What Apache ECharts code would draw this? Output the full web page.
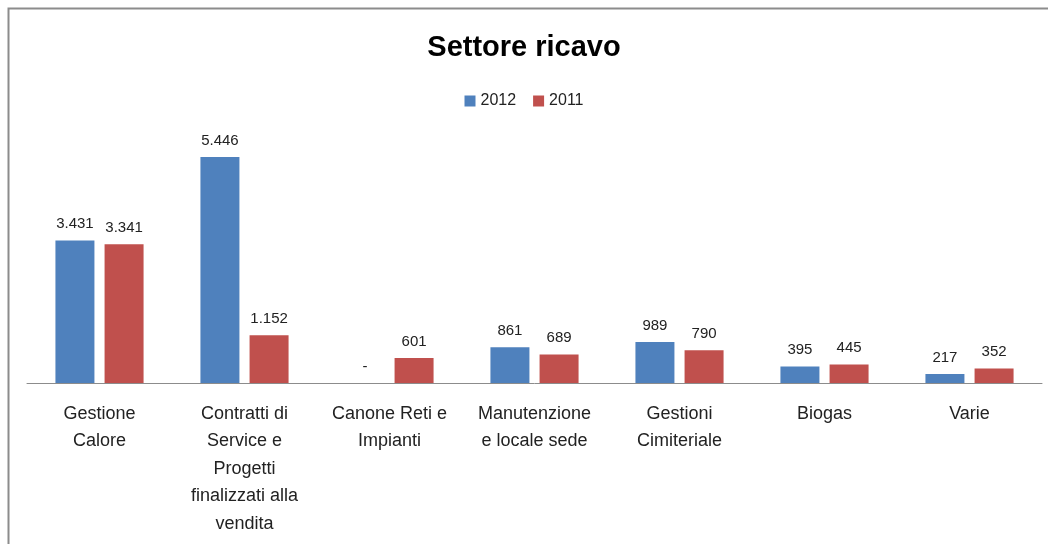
<!DOCTYPE html>
<html><head><meta charset="utf-8">
<script src="https://cdn.jsdelivr.net/npm/echarts@6/dist/echarts.min.js"></script>
<style>html,body{margin:0;padding:0;background:#fff}#c{width:1048px;height:544px}</style>
</head><body><div id="c"></div>
<script>
const categories = ["Gestione\nCalore","Contratti di\nService e\nProgetti\nfinalizzati alla\nvendita","Canone Reti e\nImpianti","Manutenzione\ne locale sede","Gestioni\nCimiteriale","Biogas","Varie"];
const values2012 = [3431, 5446, 0, 861, 989, 395, 217];
const values2011 = [3341, 1152, 601, 689, 790, 445, 352];
const seriesNames = ["2012", "2011"];
const titleText = "Settore ricavo";

const fmt = v => v === 0 ? '-' : v.toString().replace(/\B(?=(\d{3})+(?!\d))/g, '.');
const FONT = 'Liberation Sans';
const chart = echarts.init(document.getElementById('c'));
const labelCfg = {show:true, position:'top', distance:9, color:'#222', fontSize:15, fontFamily:FONT,
  formatter: p => fmt(p.value)};
chart.setOption({
  animation:false,
  textStyle:{fontFamily:FONT},
  graphic:[{type:'polyline', shape:{points:[[8.5,544],[8.5,8.5],[1048,8.5]]}, style:{stroke:'#8c8c8c', lineWidth:2, fill:null}}],
  title:{text:titleText, left:'center', top:28, textStyle:{fontSize:29, fontWeight:'bold', color:'#000', fontFamily:FONT}},
  legend:{data:seriesNames, top:88, left:'center', itemWidth:11, itemHeight:11, itemGap:17, icon:'rect',
    textStyle:{fontSize:16, color:'#222', fontFamily:FONT}},
  grid:{left:27, right:6, top:134, bottom:161, containLabel:false},
  xAxis:{type:'category', data:categories, axisTick:{show:false},
    axisLine:{lineStyle:{color:'#8c8c8c', width:1}},
    axisLabel:{interval:0, fontSize:18, color:'#222', lineHeight:27.5, margin:17, fontFamily:FONT}},
  yAxis:{type:'value', min:0, max:6000, show:false, splitLine:{show:false}},
  series:[
    {name:seriesNames[0], type:'bar', data:values2012, barWidth:39, barGap:'26%', itemStyle:{color:'#4F81BD'}, label:labelCfg},
    {name:seriesNames[1], type:'bar', data:values2011, barWidth:39, itemStyle:{color:'#C0504D'}, label:labelCfg}
  ]
});
</script></body></html>
